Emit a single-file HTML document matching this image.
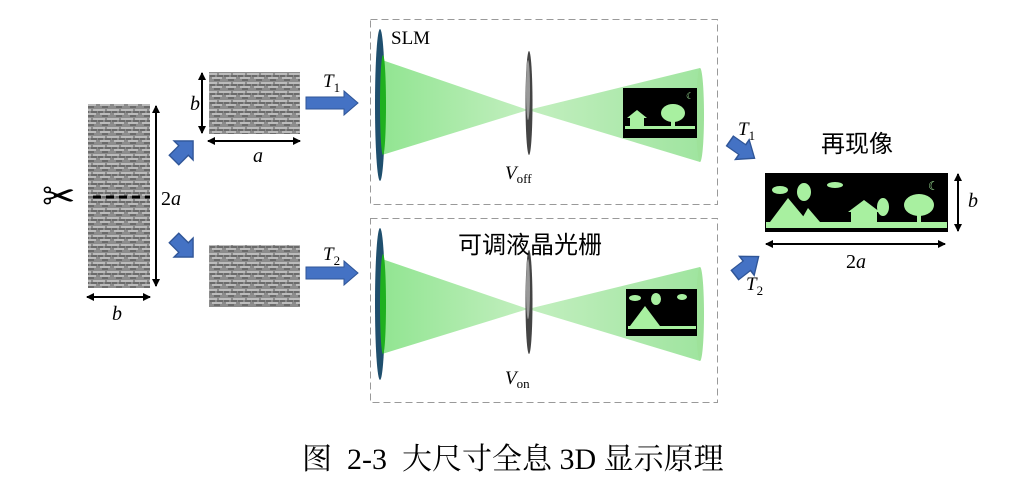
<!DOCTYPE html>
<html><head><meta charset="utf-8"><style>
html,body{margin:0;padding:0;background:#fff;}
svg{display:block;}
.it{font-family:"Liberation Serif",serif;font-style:italic;}
.sr{font-family:"Liberation Serif","Noto Serif CJK SC",serif;}
.cj{font-family:"Liberation Sans","Noto Sans CJK SC",sans-serif;}
</style></head><body>
<svg width="1019" height="497" viewBox="0 0 1019 497" xmlns="http://www.w3.org/2000/svg">
<defs>
<pattern id="holo" width="14" height="9" patternUnits="userSpaceOnUse">
<rect width="14" height="9" fill="#8c8c8c"/>
<path d="M0 2 H7 M9 2 H14 M2 6 H12" stroke="#d8d8d8" stroke-width="1.2"/>
<path d="M0 4 H5 M7 4 H13 M4 8 H10" stroke="#4a4a4a" stroke-width="1"/>
</pattern>
<marker id="ah" markerWidth="8" markerHeight="8" refX="7" refY="4" orient="auto-start-reverse" markerUnits="userSpaceOnUse">
<path d="M0 0 L8 4 L0 8 Z" fill="#000"/>
</marker>
<linearGradient id="cone" x1="0" x2="1">
<stop offset="0" stop-color="#7ee07e"/><stop offset="1" stop-color="#b8ecb4"/>
</linearGradient>
<linearGradient id="cone2" x1="0" x2="1">
<stop offset="0" stop-color="#b8ecb4"/><stop offset="1" stop-color="#8fe08f"/>
</linearGradient>
<g id="blueArr"><path d="M0 -6 H38 V-12 L52 0 L38 12 V6 H0 Z" fill="#4472c4" stroke="#2f5597" stroke-width="1"/></g>
<g id="smallArr"><path d="M0 -5 H10 V-10 L20 0 L10 10 V5 H0 Z" fill="#4472c4" stroke="#2f5597" stroke-width="1"/></g>
<g id="optics">
<polygon points="382,60 528,110 382,155" fill="url(#cone)" opacity="0.85"/>
<polygon points="528,110 700,68 700,162" fill="url(#cone2)" opacity="0.85"/>
<ellipse cx="700" cy="115" rx="4" ry="47" fill="#9ee29a"/>
<ellipse cx="380" cy="105" rx="5" ry="76" fill="#1f4f6e"/>
<ellipse cx="383" cy="105" rx="3" ry="50" fill="#1fb01f"/>
<ellipse cx="529" cy="103" rx="3.5" ry="52" fill="#444"/>
<ellipse cx="528" cy="90" rx="2" ry="30" fill="#999"/>
</g>
</defs>

<rect x="88" y="104" width="62" height="184" fill="url(#holo)"/>
<line x1="93" y1="197" x2="150" y2="197" stroke="#000" stroke-width="3" stroke-dasharray="8,5"/>
<text x="42" y="210" font-size="40" fill="#000" font-family="DejaVu Sans, sans-serif">✂</text>
<line x1="156" y1="106" x2="156" y2="286" stroke="#000" stroke-width="2" marker-start="url(#ah)" marker-end="url(#ah)"/>
<text x="161" y="205" font-size="20" class="sr"><tspan>2</tspan><tspan class="it">a</tspan></text>
<line x1="87" y1="297" x2="150" y2="297" stroke="#000" stroke-width="2" marker-start="url(#ah)" marker-end="url(#ah)"/>
<text x="112" y="320" font-size="20" class="it">b</text>

<use href="#smallArr" transform="translate(174,160) rotate(-45) scale(1.35)"/>
<use href="#smallArr" transform="translate(174,238) rotate(45) scale(1.35)"/>

<rect x="209" y="72" width="91" height="62" fill="url(#holo)"/>
<line x1="202" y1="73" x2="202" y2="133" stroke="#000" stroke-width="2" marker-start="url(#ah)" marker-end="url(#ah)"/>
<text x="190" y="110" font-size="20" class="it">b</text>
<line x1="208" y1="141" x2="300" y2="141" stroke="#000" stroke-width="2" marker-start="url(#ah)" marker-end="url(#ah)"/>
<text x="253" y="162" font-size="20" class="it">a</text>
<rect x="209" y="245" width="91" height="62" fill="url(#holo)"/>

<use href="#blueArr" transform="translate(306,103)"/>
<text x="323" y="87" font-size="19" class="it">T<tspan font-size="13" font-style="normal" dy="5">1</tspan></text>
<use href="#blueArr" transform="translate(306,273)"/>
<text x="323" y="260" font-size="19" class="it">T<tspan font-size="13" font-style="normal" dy="5">2</tspan></text>

<rect x="370.5" y="19.5" width="347" height="185" fill="none" stroke="#999" stroke-dasharray="7,4"/>
<use href="#optics"/>
<text x="391" y="44" font-size="19" class="sr">SLM</text>
<rect x="623" y="88" width="74" height="50" fill="#000"/>
<rect x="625" y="126" width="70" height="3" fill="#a8f0a0"/>
<path d="M627 118 L637 110 L647 118 Z M630 118 h14 v8 h-14 Z" fill="#a8f0a0"/>
<ellipse cx="673" cy="113" rx="12" ry="9" fill="#a8f0a0"/><rect x="671" y="118" width="4" height="10" fill="#a8f0a0"/>
<text x="686" y="99" font-size="9" fill="#a8f0a0">☾</text>
<text x="505" y="179" font-size="19" class="it">V<tspan font-size="13" font-style="normal" dy="4">off</tspan></text>

<rect x="370.5" y="218.5" width="347" height="184" fill="none" stroke="#999" stroke-dasharray="7,4"/>
<use href="#optics" transform="translate(0,199)"/>
<text x="530" y="253" font-size="24" text-anchor="middle" class="cj">可调液晶光栅</text>
<rect x="626" y="289" width="71" height="47" fill="#000"/>
<path d="M630 326 L645 306 L660 326 Z" fill="#a8f0a0"/>
<rect x="628" y="326" width="68" height="3" fill="#a8f0a0"/>
<ellipse cx="656" cy="299" rx="5" ry="6" fill="#a8f0a0"/>
<ellipse cx="635" cy="298" rx="6" ry="3" fill="#a8f0a0"/>
<ellipse cx="682" cy="297" rx="5" ry="3" fill="#a8f0a0"/>
<text x="505" y="384" font-size="19" class="it">V<tspan font-size="13" font-style="normal" dy="4">on</tspan></text>

<use href="#smallArr" transform="translate(730,141) rotate(35) scale(1.5,1.2)"/>
<text x="738" y="135" font-size="19" class="it">T<tspan font-size="13" font-style="normal" dy="5">1</tspan></text>
<use href="#smallArr" transform="translate(735,275) rotate(-38) scale(1.5,1.2)"/>
<text x="746" y="290" font-size="19" class="it">T<tspan font-size="13" font-style="normal" dy="5">2</tspan></text>
<text x="857" y="152" font-size="24" text-anchor="middle" class="cj">再现像</text>
<rect x="765" y="173" width="183" height="59" fill="#000"/>
<rect x="766" y="222" width="181" height="6" fill="#a8f0a0"/>
<path d="M770 222 L788 198 L808 222 Z M800 222 L808 208 L820 222 Z" fill="#a8f0a0"/>
<ellipse cx="804" cy="192" rx="7" ry="9" fill="#a8f0a0"/>
<ellipse cx="780" cy="190" rx="8" ry="4" fill="#a8f0a0"/>
<ellipse cx="835" cy="185" rx="8" ry="3" fill="#a8f0a0"/>
<path d="M848 212 L864 200 L880 212 Z M851 212 h26 v10 h-26 Z" fill="#a8f0a0"/>
<ellipse cx="883" cy="207" rx="6" ry="9" fill="#a8f0a0"/>
<ellipse cx="919" cy="205" rx="15" ry="11" fill="#a8f0a0"/>
<rect x="917" y="210" width="4" height="13" fill="#a8f0a0"/>
<text x="928" y="190" font-size="12" fill="#a8f0a0">☾</text>
<line x1="958" y1="174" x2="958" y2="231" stroke="#000" stroke-width="2" marker-start="url(#ah)" marker-end="url(#ah)"/>
<text x="968" y="207" font-size="20" class="it">b</text>
<line x1="766" y1="244" x2="945" y2="244" stroke="#000" stroke-width="2" marker-start="url(#ah)" marker-end="url(#ah)"/>
<text x="846" y="268" font-size="20" class="sr"><tspan>2</tspan><tspan class="it">a</tspan></text>

<text x="302" y="469" font-size="30" class="sr" style="white-space:pre" xml:space="preserve">图  2-3  大尺寸全息 3D 显示原理</text>
</svg>
</body></html>
